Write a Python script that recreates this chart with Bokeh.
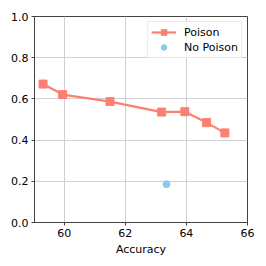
from bokeh.plotting import figure
from bokeh.embed import file_html
from bokeh.resources import INLINE
from bokeh.models import Range1d, FixedTicker, CustomJSTickFormatter

poison_acc = [59.31, 59.95, 61.50, 63.19, 63.95, 64.66, 65.26]
poison_val = [0.672, 0.621, 0.587, 0.536, 0.538, 0.485, 0.435]
nopoison_acc = [63.35]
nopoison_val = [0.186]
x_ticks = [60, 62, 64, 66]
y_ticks = [0.0, 0.2, 0.4, 0.6, 0.8, 1.0]

FONT = "DejaVu Sans"
p = figure(width=258, height=258, output_backend="svg", toolbar_location=None,
           x_range=Range1d(59.03, 66.0), y_range=Range1d(0, 1.0),
           min_border_left=34, min_border_top=16, min_border_right=11, min_border_bottom=34)

p.line(poison_acc, poison_val, color="#FA8072", line_width=2.2, legend_label="Poison")
p.scatter(poison_acc, poison_val, marker="square", size=8, color="#FA8072", legend_label="Poison")
p.scatter(nopoison_acc, nopoison_val, marker="circle", size=7, color="#87CEEB", legend_label="No Poison")

p.xaxis.ticker = FixedTicker(ticks=x_ticks)
p.yaxis.ticker = FixedTicker(ticks=y_ticks)
p.xaxis.axis_label = "Accuracy"
for ax in (p.xaxis, p.yaxis):
    ax.major_label_text_font = FONT
    ax.major_label_text_font_size = "11px"
    ax.major_label_text_color = "black"
    ax.axis_label_text_font = FONT
    ax.axis_label_text_font_size = "11px"
    ax.axis_label_text_font_style = "normal"
    ax.axis_label_text_color = "black"
    ax.axis_label_standoff = 3
    ax.major_label_standoff = 3
    ax.minor_tick_line_color = None
    ax.major_tick_in = 0
    ax.major_tick_out = 3
    ax.axis_line_color = "#444444"
    ax.major_tick_line_color = "#444444"
p.yaxis.formatter = CustomJSTickFormatter(code="return tick.toFixed(1);")

p.grid.grid_line_color = "#d0d0d0"
p.grid.grid_line_width = 1
p.outline_line_color = "#444444"
p.outline_line_width = 1

p.legend.location = "top_right"
p.legend.label_text_font = FONT
p.legend.label_text_font_size = "11px"
p.legend.label_text_color = "black"
p.legend.border_line_color = "#d8d8d8"
p.legend.background_fill_alpha = 0.8
p.legend.spacing = 1
p.legend.padding = 3
p.legend.margin = 5
p.legend.label_height = 14
p.legend.glyph_height = 14
p.legend.glyph_width = 25
p.legend.label_standoff = 8

open("out.html", "w").write(file_html(p, INLINE))
